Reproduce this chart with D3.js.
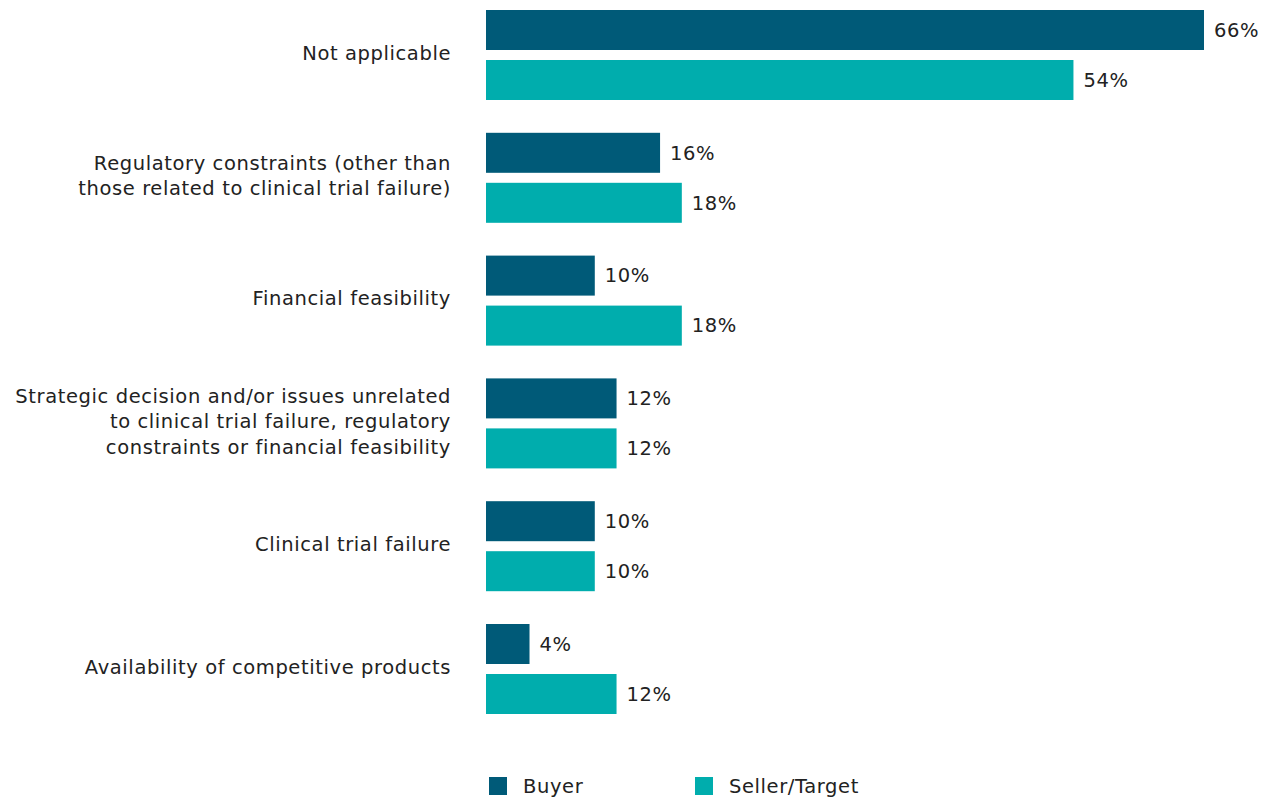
<!DOCTYPE html>
<html>
<head>
<meta charset="utf-8">
<script src="https://cdn.jsdelivr.net/npm/d3@7"></script>
<style>
  html, body { margin: 0; padding: 0; background: #fff; }
  svg text { font-family: "DejaVu Sans", "Noto Sans", sans-serif; fill: #222; letter-spacing: 0.6px; }
</style>
</head>
<body>
<svg id="chart" width="1268" height="798"></svg>
<script>
// Reasons, one group per category (label lines split for wrapping)
const categories = [
  ["Not applicable"],
  ["Regulatory constraints (other than", "those related to clinical trial failure)"],
  ["Financial feasibility"],
  ["Strategic decision and/or issues unrelated", "to clinical trial failure, regulatory", "constraints or financial feasibility"],
  ["Clinical trial failure"],
  ["Availability of competitive products"]
];
const seriesNames = ["Buyer", "Seller/Target"];
const buyerValues = [66, 16, 10, 12, 10, 4];
const sellerValues = [54, 18, 18, 12, 10, 12];
const colors = ["#005a78", "#00adad"];

const svg = d3.select("#chart");
const barLeft = 486;
const fontSize = "19.5px";

const x = d3.scaleLinear().domain([0, 66]).range([barLeft, 1204]);

const y = d3.scaleBand()
  .domain(d3.range(categories.length))
  .range([10, 10 + 122.8 * categories.length])
  .paddingInner(0)
  .paddingOuter(0);

const barH = 40;
const sub = d3.scaleOrdinal().domain(seriesNames).range([0, 50]);

const rows = categories.map((c, i) => ({
  i, lines: c,
  vals: [
    { s: seriesNames[0], v: buyerValues[i] },
    { s: seriesNames[1], v: sellerValues[i] }
  ]
}));

const g = svg.selectAll("g.group").data(rows).enter().append("g")
  .attr("class", "group")
  .attr("transform", d => `translate(0,${y(d.i)})`);

g.selectAll("rect").data(d => d.vals).enter().append("rect")
  .attr("x", x(0))
  .attr("y", d => sub(d.s))
  .attr("width", d => x(d.v) - x(0))
  .attr("height", barH)
  .attr("fill", (d, j) => colors[j]);

g.selectAll("text.val").data(d => d.vals).enter().append("text")
  .attr("class", "val")
  .attr("x", d => x(d.v) + 10)
  .attr("y", d => sub(d.s) + barH / 2)
  .attr("dy", "0.35em")
  .style("font-size", fontSize)
  .text(d => d.v + "%");

// Category labels, right aligned against the bars, centred on each group
const lineH = 25.5;
g.append("text")
  .attr("class", "cat")
  .attr("text-anchor", "end")
  .style("font-size", fontSize)
  .each(function(d) {
    const t = d3.select(this);
    const center = (sub(seriesNames[1]) + barH) / 2 - 2;
    const first = center - (d.lines.length - 1) * lineH / 2;
    d.lines.forEach((ln, k) => {
      t.append("tspan")
        .attr("x", 451)
        .attr("y", first + k * lineH)
        .attr("dy", "0.35em")
        .text(ln);
    });
  });

// Legend
const legendX = [489, 695];
const lg = svg.selectAll("g.legend").data(seriesNames).enter().append("g")
  .attr("class", "legend")
  .attr("transform", (d, i) => `translate(${legendX[i]},777)`);
lg.append("rect").attr("width", 18).attr("height", 18)
  .attr("fill", (d, i) => colors[i]);
lg.append("text").attr("x", 34).attr("y", 9).attr("dy", "0.35em")
  .style("font-size", fontSize)
  .text(d => d);
</script>
</body>
</html>
